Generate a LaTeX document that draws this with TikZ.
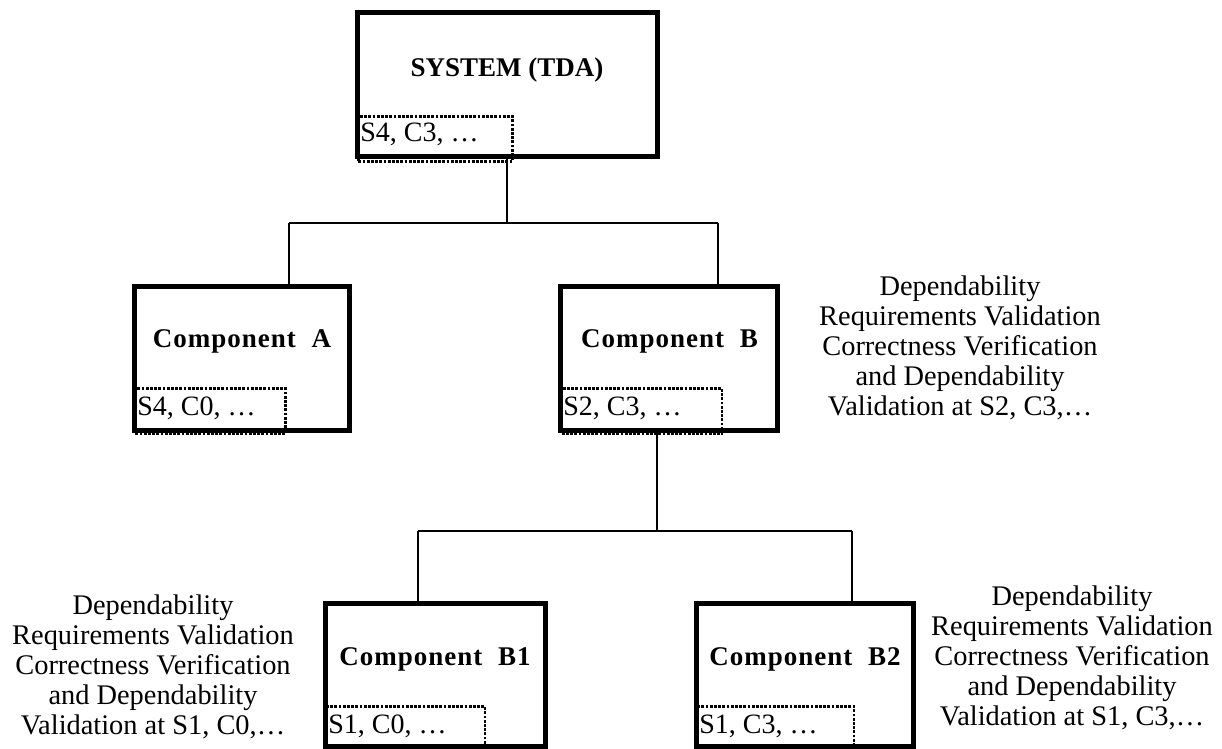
\documentclass[tikz,border=0pt]{standalone}
\usepackage{fontspec}
\setmainfont{Liberation Serif}
\newfontfamily\trackedfont[LetterSpace=3.7]{Liberation Serif}
\begin{document}
\begin{tikzpicture}[x=0.5pt,y=-0.5pt,
  box/.style={draw, line width=2.5pt, inner sep=0pt, minimum height=72pt},
  tag/.style={draw, line width=1.3pt, dash pattern=on 1.4pt off 0.7pt, inner sep=0pt, anchor=north west},
  conn/.style={line width=1pt},
  title/.style={font=\fontsize{13.5}{15}\selectfont\bfseries, anchor=base},
  comp/.style={font=\fontsize{13.5}{15}\selectfont\trackedfont\bfseries, anchor=base},
  code/.style={font=\fontsize{14}{15}\selectfont, anchor=base west, inner sep=0pt},
  note/.style={font=\fontsize{14.2}{15}\selectfont, align=center, inner sep=0pt}]
\useasboundingbox (0,0) rectangle (1222,749);

% boxes
\node[box, minimum width=150pt] (sys) at (507,85) {};
\node[box, minimum width=107.5pt] (a) at (241.5,358) {};
\node[box, minimum width=108.5pt] (b) at (669,358) {};
\node[box, minimum width=110pt, minimum height=71.5pt] (b1) at (435.5,675) {};
\node[box, minimum width=108.5pt, minimum height=71.5pt] (b2) at (805,675) {};

% dotted level tags
\node[tag, minimum width=77pt, minimum height=22.5pt] (tsys) at (357,115) {};
\node[tag, minimum width=75pt, minimum height=22.5pt] (ta) at (134,387) {};
\node[tag, minimum width=80pt, minimum height=22.5pt] (tb) at (560.5,387) {};
\node[tag, minimum width=79pt, minimum height=21.5pt] (tb1) at (325.5,705) {};
\node[tag, minimum width=78pt, minimum height=21.5pt] (tb2) at (696.5,705) {};

% box titles
\node[title] (lsys) at (507,77) {SYSTEM (TDA)};
\node[comp] (la) at (242,347) {Component\hspace{0.58em}A};
\node[comp] (lb) at (669.5,347) {Component\hspace{0.58em}B};
\node[comp] (lb1) at (435,665) {Component\hspace{0.58em}B1};
\node[comp] (lb2) at (805,665) {Component\hspace{0.58em}B2};

% tag texts
\node[code] (csys) at (360,142) {S4, C3, …};
\node[code] (ca) at (137,415) {S4, C0, …};
\node[code] (cb) at (563,415) {S2, C3, …};
\node[code] (cb1) at (328,733) {S1, C0, …};
\node[code] (cb2) at (699,733) {S1, C3, …};

% side notes
\node[note] (nb) at (960,348) {Dependability\\Requirements Validation\\Correctness Verification\\and Dependability\\Validation at S2, C3,…};
\node[note] (nb1) at (153,667) {Dependability\\Requirements Validation\\Correctness Verification\\and Dependability\\Validation at S1, C0,…};
\node[note] (nb2) at (1072,658) {Dependability\\Requirements Validation\\Correctness Verification\\and Dependability\\Validation at S1, C3,…};

% tree connectors
\coordinate (j1l) at (289,223);
\coordinate (j1r) at (718,223);
\coordinate (j2l) at (418,531);
\coordinate (j2r) at (852,531);
\draw[conn] (sys.south) -- (sys.south |- j1l);
\draw[conn] (j1l) -- (j1r);
\draw[conn] (j1l) -- (j1l |- a.north);
\draw[conn] (j1r) -- (j1r |- b.north);
\draw[conn] (657,0 |- b.south) -- (657,531);
\draw[conn] (j2l) -- (j2r);
\draw[conn] (j2l) -- (j2l |- b1.north);
\draw[conn] (j2r) -- (j2r |- b2.north);
\end{tikzpicture}
\end{document}
